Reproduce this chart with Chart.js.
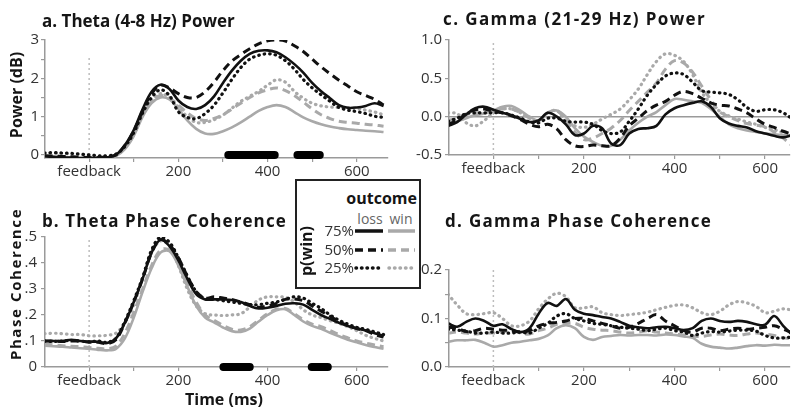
<!DOCTYPE html>
<html>
<head>
<meta charset="utf-8">
<script src="https://cdn.jsdelivr.net/npm/chart.js@4.4.0/dist/chart.umd.min.js"></script>
<style>
  body { margin: 0; background: #fff; }
  #wrap { position: relative; width: 800px; height: 415px; overflow: hidden; font-family: "Open Sans", sans-serif; }
  canvas { position: absolute; }
  .ttl { position: absolute; font-weight: 700; font-size: 17px; color: #151515; white-space: nowrap; line-height: 1; }
  .rot { position: absolute; font-weight: 700; font-size: 15px; color: #151515; white-space: nowrap; line-height: 1;
         transform: translate(-50%, -50%) rotate(-90deg); }
  #legend { position: absolute; left: 295px; top: 179px; }
</style>
</head>
<body>
<div id="wrap">
  <canvas id="cA" width="378" height="154" style="left:15px;top:28px"></canvas>
  <canvas id="cB" width="378" height="167" style="left:15px;top:224px"></canvas>
  <canvas id="cC" width="386" height="151" style="left:409px;top:28px"></canvas>
  <canvas id="cD" width="386" height="133" style="left:409px;top:258px"></canvas>

  <div class="ttl" style="left:42px;top:12px">a. Theta (4-8 Hz) Power</div>
  <div class="ttl" style="left:42px;top:212px;letter-spacing:1.1px">b. Theta Phase Coherence</div>
  <div class="ttl" style="left:443px;top:10px;letter-spacing:1.4px">c. Gamma (21-29 Hz) Power</div>
  <div class="ttl" style="left:445px;top:212px;letter-spacing:1.3px">d. Gamma Phase Coherence</div>
  <div class="rot" style="left:16px;top:95px;font-size:16px">Power (dB)</div>
  <div class="rot" style="left:15px;top:284px;letter-spacing:1.6px">Phase Coherence</div>
  <div class="ttl" style="left:224px;top:391px;font-size:16px;transform:translateX(-50%)">Time (ms)</div>

  <svg id="legend" width="126" height="110" font-family="Open Sans, sans-serif">
    <rect x="1" y="1" width="124" height="108" fill="#fff" stroke="#222" stroke-width="2"/>
    <text x="122" y="25" text-anchor="end" font-weight="700" font-size="16" fill="#151515">outcome</text>
    <text x="75" y="45" text-anchor="middle" font-size="14" fill="#666">loss</text>
    <text x="106" y="45" text-anchor="middle" font-size="14" fill="#666">win</text>
    <text transform="translate(11,72) rotate(-90)" text-anchor="middle" dominant-baseline="central" font-weight="700" font-size="16" fill="#151515">p(win)</text>
    <g font-size="15" fill="#333" text-anchor="end">
      <text x="59" y="57">75%</text>
      <text x="59" y="76">50%</text>
      <text x="59" y="94">25%</text>
    </g>
    <line x1="60" y1="52" x2="88" y2="52" stroke="#111" stroke-width="3.5"/>
    <line x1="93" y1="52" x2="120" y2="52" stroke="#a9a9a9" stroke-width="3.5"/>
    <line x1="60" y1="71" x2="88" y2="71" stroke="#111" stroke-width="3.5" stroke-dasharray="8 5"/>
    <line x1="93" y1="71" x2="120" y2="71" stroke="#a9a9a9" stroke-width="3.5" stroke-dasharray="8 5"/>
    <line x1="61" y1="89" x2="88" y2="89" stroke="#111" stroke-width="3.5" stroke-dasharray="0.5 5" stroke-linecap="round"/>
    <line x1="94" y1="89" x2="120" y2="89" stroke="#a9a9a9" stroke-width="3.5" stroke-dasharray="0.5 5" stroke-linecap="round"/>
  </svg>
</div>

<script>
// time axis (ms after feedback), 20 ms steps
const timeMs = [-100, -80, -60, -40, -20, 0, 20, 40, 60, 80, 100, 120, 140, 160, 180, 200, 220, 240, 260,
  280, 300, 320, 340, 360, 380, 400, 420, 440, 460, 480, 500, 520, 540, 560, 580, 600, 620, 640, 660];

// a. theta power (dB)
const thetaPowerLoss75 = [-0.03,-0.05,-0.06,-0.07,-0.08,-0.08,-0.08,-0.06,0.0, 0.25,0.65,1.2,1.65,1.83,1.72,1.42,1.25,1.2,1.3,
  1.53,1.88,2.2,2.46,2.64,2.72,2.73,2.68,2.55,2.37, 2.15,1.88,1.66,1.48,1.3,1.23,1.24,1.28,1.35,1.28];
const thetaPowerLoss50 = [-0.02,-0.03,-0.04,-0.05,-0.06,-0.07,-0.07,-0.05,0.0, 0.25,0.62,1.15,1.6,1.82,1.75,1.6,1.5,1.5,1.65,
  1.9,2.2,2.45,2.62,2.77,2.9,2.98,3.0,2.97,2.85, 2.7,2.5,2.3,2.12,1.95,1.8,1.65,1.55,1.45,1.3];
const thetaPowerLoss25 = [0.05,0.06,0.05,0.04,0.02,0.0,-0.02,-0.02,0.02, 0.22,0.58,1.1,1.5,1.7,1.55,1.13,0.98,0.95,1.08,
  1.3,1.62,1.97,2.28,2.5,2.6,2.64,2.6,2.46,2.24, 1.97,1.75,1.57,1.4,1.24,1.17,1.13,1.08,1.01,0.98];
const thetaPowerWin75 = [-0.04,-0.05,-0.06,-0.07,-0.08,-0.08,-0.08,-0.07,-0.03, 0.15,0.5,1.0,1.35,1.5,1.45,1.2,0.9,0.68,0.56,
  0.55,0.62,0.72,0.85,1.0,1.15,1.25,1.3,1.25,1.12, 0.98,0.88,0.8,0.74,0.7,0.67,0.65,0.63,0.62,0.6];
const thetaPowerWin50 = [-0.02,-0.03,-0.04,-0.05,-0.06,-0.06,-0.06,-0.05,-0.01, 0.18,0.52,1.05,1.4,1.55,1.48,1.3,1.1,0.95,0.9,
  0.95,1.05,1.2,1.35,1.5,1.62,1.7,1.75,1.68,1.55, 1.38,1.2,1.05,0.95,0.88,0.85,0.83,0.8,0.78,0.75];
const thetaPowerWin25 = [0.06,0.05,0.04,0.02,0.0,-0.02,-0.03,-0.03,0.0, 0.2,0.55,1.05,1.42,1.6,1.5,1.25,1.0,0.85,0.85,
  0.92,1.04,1.22,1.4,1.53,1.66,1.82,1.96,1.9,1.66, 1.48,1.35,1.28,1.25,1.24,1.23,1.21,1.17,1.12,1.05];
const thetaPowerSig = [[312, 416], [467, 517]];

// b. theta phase coherence
const thetaPhaseLoss75 = [0.1,0.1,0.1,0.105,0.1,0.098,0.097,0.092,0.11, 0.17,0.25,0.34,0.44,0.49,0.465,0.41,0.34,0.28,0.26,
  0.26,0.26,0.258,0.25,0.235,0.225,0.228,0.235,0.243,0.245, 0.24,0.22,0.2,0.185,0.17,0.158,0.148,0.14,0.13,0.12];
const thetaPhaseLoss50 = [0.1,0.1,0.098,0.1,0.1,0.095,0.095,0.09,0.105, 0.17,0.25,0.34,0.44,0.49,0.47,0.42,0.35,0.29,0.265,
  0.27,0.265,0.26,0.25,0.24,0.23,0.235,0.245,0.26,0.262, 0.255,0.235,0.215,0.195,0.175,0.16,0.148,0.14,0.125,0.115];
const thetaPhaseLoss25 = [0.1,0.098,0.1,0.102,0.1,0.097,0.1,0.095,0.11, 0.175,0.255,0.345,0.45,0.5,0.48,0.42,0.35,0.29,0.262,
  0.26,0.255,0.25,0.245,0.24,0.24,0.245,0.25,0.26,0.27, 0.265,0.245,0.225,0.2,0.18,0.165,0.152,0.145,0.135,0.125];
const thetaPhaseWin75 = [0.082,0.08,0.078,0.075,0.072,0.07,0.066,0.064,0.07, 0.11,0.19,0.29,0.38,0.44,0.445,0.39,0.31,0.235,0.19,
  0.172,0.152,0.138,0.135,0.148,0.175,0.2,0.218,0.222,0.2, 0.175,0.158,0.147,0.132,0.118,0.105,0.095,0.085,0.077,0.07];
const thetaPhaseWin50 = [0.088,0.085,0.082,0.08,0.078,0.075,0.072,0.07,0.08, 0.13,0.21,0.3,0.39,0.45,0.45,0.4,0.32,0.25,0.2,
  0.18,0.16,0.145,0.142,0.155,0.18,0.205,0.222,0.225,0.205, 0.182,0.165,0.155,0.14,0.125,0.112,0.1,0.092,0.085,0.078];
const thetaPhaseWin25 = [0.128,0.13,0.128,0.125,0.125,0.12,0.12,0.122,0.13, 0.17,0.24,0.34,0.44,0.485,0.465,0.39,0.3,0.235,0.205,
  0.2,0.198,0.2,0.205,0.23,0.258,0.27,0.27,0.268,0.25, 0.22,0.2,0.19,0.178,0.168,0.155,0.14,0.122,0.11,0.1];
const thetaPhaseSig = [[301, 360], [499, 535]];

// c. gamma power (dB)
const gammaPowerLoss75 = [-0.12,-0.07,0.03,0.11,0.13,0.09,0.05,0.02,-0.03, -0.07,-0.05,0.05,0.0,-0.1,-0.24,-0.22,-0.12,-0.15,-0.35,
  -0.37,-0.22,-0.16,-0.15,-0.12,0.03,0.11,0.15,0.18,0.2, 0.13,-0.02,-0.09,-0.12,-0.14,-0.19,-0.22,-0.25,-0.27,-0.24];
const gammaPowerLoss50 = [-0.1,-0.05,0.04,0.09,0.1,0.07,0.05,0.01,-0.04, -0.1,-0.13,-0.1,-0.16,-0.3,-0.38,-0.39,-0.37,-0.38,-0.38,
  -0.28,-0.12,-0.02,0.08,0.15,0.2,0.28,0.33,0.3,0.24, 0.18,0.15,0.14,0.1,0.05,-0.03,-0.1,-0.14,-0.19,-0.23];
const gammaPowerLoss25 = [-0.06,-0.02,0.04,0.05,0.05,0.05,0.05,0.02,-0.02, -0.07,-0.08,-0.02,-0.02,-0.06,-0.07,-0.07,-0.1,-0.18,-0.22,
  -0.2,-0.06,0.1,0.28,0.42,0.53,0.57,0.55,0.45,0.34, 0.32,0.31,0.29,0.22,0.12,0.07,0.09,0.09,0.05,-0.03];
const gammaPowerWin75 = [-0.08,-0.06,-0.02,0.02,0.04,0.08,0.13,0.14,0.08, 0.0,-0.05,0.05,0.08,0.0,-0.15,-0.26,-0.33,-0.38,-0.38,
  -0.3,-0.18,-0.08,0.0,0.06,0.15,0.23,0.22,0.2,0.18, 0.1,0.0,-0.1,-0.15,-0.18,-0.2,-0.22,-0.23,-0.24,-0.25];
const gammaPowerWin50 = [-0.05,-0.02,0.02,0.05,0.05,0.07,0.1,0.1,0.05, -0.02,-0.05,0.05,0.08,-0.05,-0.2,-0.3,-0.28,-0.22,-0.15,
  -0.05,0.08,0.2,0.32,0.44,0.62,0.73,0.7,0.58,0.4, 0.22,0.06,0.0,-0.05,-0.09,-0.11,-0.13,-0.2,-0.28,-0.38];
const gammaPowerWin25 = [0.05,0.04,-0.08,-0.12,-0.05,0.05,0.1,0.1,0.05, -0.02,-0.05,0.05,0.08,-0.05,-0.12,-0.14,-0.1,-0.03,0.03,
  0.1,0.22,0.36,0.55,0.72,0.82,0.8,0.72,0.55,0.32, 0.17,0.07,0.01,-0.03,-0.07,-0.1,-0.14,-0.17,-0.21,-0.26];

// d. gamma phase coherence
const gammaPhaseLoss75 = [0.09,0.083,0.093,0.1,0.095,0.085,0.088,0.078,0.072, 0.08,0.11,0.132,0.126,0.14,0.118,0.11,0.107,0.103,0.1,
  0.093,0.085,0.082,0.08,0.082,0.083,0.08,0.076,0.08,0.095, 0.1,0.095,0.093,0.095,0.093,0.088,0.087,0.105,0.085,0.066];
const gammaPhaseLoss50 = [0.082,0.08,0.073,0.075,0.08,0.078,0.076,0.075,0.072, 0.075,0.085,0.09,0.092,0.095,0.1,0.1,0.095,0.09,0.085,
  0.08,0.082,0.09,0.1,0.108,0.095,0.085,0.075,0.072,0.08, 0.08,0.075,0.078,0.08,0.078,0.08,0.082,0.085,0.078,0.07];
const gammaPhaseLoss25 = [0.078,0.076,0.074,0.07,0.07,0.072,0.07,0.07,0.072, 0.07,0.08,0.09,0.105,0.11,0.1,0.095,0.09,0.088,0.085,
  0.082,0.08,0.078,0.075,0.078,0.08,0.075,0.072,0.065,0.07, 0.073,0.072,0.074,0.076,0.076,0.074,0.065,0.06,0.06,0.062];
const gammaPhaseWin75 = [0.052,0.055,0.055,0.056,0.05,0.042,0.045,0.05,0.052, 0.055,0.058,0.065,0.08,0.086,0.08,0.062,0.056,0.062,0.064,
  0.066,0.065,0.066,0.066,0.065,0.067,0.066,0.063,0.06,0.048, 0.042,0.04,0.038,0.04,0.043,0.045,0.044,0.046,0.045,0.045];
const gammaPhaseWin50 = [0.07,0.072,0.07,0.068,0.07,0.07,0.072,0.075,0.07, 0.068,0.075,0.08,0.088,0.09,0.09,0.082,0.078,0.076,0.075,
  0.072,0.07,0.072,0.075,0.072,0.07,0.068,0.066,0.064,0.063, 0.066,0.068,0.066,0.065,0.068,0.07,0.068,0.065,0.06,0.058];
const gammaPhaseWin25 = [0.15,0.128,0.11,0.108,0.11,0.112,0.1,0.085,0.085, 0.095,0.12,0.14,0.152,0.145,0.122,0.122,0.124,0.112,0.108,
  0.106,0.108,0.11,0.113,0.118,0.123,0.127,0.128,0.122,0.112, 0.108,0.115,0.128,0.135,0.132,0.125,0.112,0.115,0.12,0.117];

// axis ticks
const leftTimeRange = [-99, 670];
const rightTimeRange = [-98, 655];
const xTickValues = [0, 100, 200, 300, 400, 500, 600];
const xTickLabels = ['feedback', '', '200', '', '400', '', '600'];
const thetaPowerTicks = [0, 0.5, 1, 1.5, 2, 2.5, 3];
const thetaPowerTickLabels = ['0', '', '1', '', '2', '', '3'];
const thetaPhaseTicks = [0, 0.1, 0.2, 0.3, 0.4, 0.5];
const thetaPhaseTickLabels = ['0', '.1', '.2', '.3', '.4', '.5'];
const gammaPowerTicks = [-0.5, 0, 0.5, 1.0];
const gammaPowerTickLabels = ['-0.5', '0.0', '0.5', '1.0'];
const gammaPhaseTicks = [0, 0.05, 0.1, 0.15, 0.2];
const gammaPhaseTickLabels = ['0.0', '', '0.1', '', '0.2'];

const LOSS = '#111111';
const WIN = '#a9a9a9';
const AXIS = '#9a9a9a';
const TICK_FONT = { family: 'Open Sans', size: 15 };

const styles = {
  solid: { borderDash: [], borderWidth: 2.6, borderCapStyle: 'butt' },
  dashed: { borderDash: [8, 5], borderWidth: 3, borderCapStyle: 'butt' },
  dotted: { borderDash: [0.5, 5], borderWidth: 3.2, borderCapStyle: 'round' }
};

function curve(values, color, style) {
  return Object.assign({
    data: timeMs.map((t, i) => ({ x: t, y: values[i] })),
    borderColor: color, pointRadius: 0, tension: 0.35, fill: false
  }, styles[style]);
}

function sigBars(windows) {
  return windows.map(w => ({
    data: [{ x: w[0], y: 0 }, { x: w[1], y: 0 }],
    borderColor: '#000', borderWidth: 8, borderCapStyle: 'round', pointRadius: 0, clip: false
  }));
}

function feedbackLine(y0, y1) {
  return { data: [{ x: 0, y: y0 }, { x: 0, y: y1 }], borderColor: '#bdbdbd', borderWidth: 1.5,
    borderDash: [2, 3], pointRadius: 0 };
}

function zeroLine(range) {
  return { data: [{ x: range[0], y: 0 }, { x: range[1], y: 0 }], borderColor: '#9a9a9a', borderWidth: 1.5, pointRadius: 0 };
}

function makeChart(id, datasets, xRange, y) {
  return new Chart(document.getElementById(id), {
    type: 'line',
    data: { datasets: datasets },
    options: {
      responsive: false,
      animation: false,
      devicePixelRatio: 1,
      layout: { padding: { top: 12, right: 5, left: 0, bottom: 0 } },
      plugins: { legend: { display: false }, tooltip: { enabled: false } },
      scales: {
        x: {
          type: 'linear', min: xRange[0], max: xRange[1],
          afterBuildTicks: s => { s.ticks = xTickValues.map(v => ({ value: v })); },
          afterFit: s => { s.height = 24; },
          ticks: { callback: (v, i) => xTickLabels[i], font: TICK_FONT, color: '#333', padding: 1, maxRotation: 0, autoSkip: false },
          grid: { drawOnChartArea: false, tickLength: 4, color: AXIS, lineWidth: 1.2 },
          border: { color: AXIS, width: 1.5 }
        },
        y: {
          type: 'linear', min: y.min, max: y.max,
          afterBuildTicks: s => { s.ticks = y.ticks.map(v => ({ value: v })); },
          afterFit: s => { s.width = y.width; },
          ticks: { callback: (v, i) => y.labels[i], font: TICK_FONT, color: '#333', padding: y.pad, autoSkip: false },
          grid: { drawOnChartArea: false, tickLength: 4, color: AXIS, lineWidth: 1.2 },
          border: { color: AXIS, width: 1.5 }
        }
      }
    }
  });
}

function panelSeries(l75, l50, l25, w75, w50, w25) {
  return [
    curve(l75, LOSS, 'solid'), curve(l50, LOSS, 'dashed'), curve(l25, LOSS, 'dotted'),
    curve(w75, WIN, 'solid'), curve(w50, WIN, 'dashed'), curve(w25, WIN, 'dotted')
  ];
}

makeChart('cA',
  sigBars(thetaPowerSig).concat(
    panelSeries(thetaPowerLoss75, thetaPowerLoss50, thetaPowerLoss25, thetaPowerWin75, thetaPowerWin50, thetaPowerWin25),
    [feedbackLine(0, 2.55)]),
  leftTimeRange,
  { min: -0.08, max: 3, ticks: thetaPowerTicks, labels: thetaPowerTickLabels, width: 30, pad: 2 });

makeChart('cB',
  sigBars(thetaPhaseSig).concat(
    panelSeries(thetaPhaseLoss75, thetaPhaseLoss50, thetaPhaseLoss25, thetaPhaseWin75, thetaPhaseWin50, thetaPhaseWin25),
    [feedbackLine(0, 0.52)]),
  leftTimeRange,
  { min: 0, max: 0.5, ticks: thetaPhaseTicks, labels: thetaPhaseTickLabels, width: 30, pad: 4 });

makeChart('cC',
  panelSeries(gammaPowerLoss75, gammaPowerLoss50, gammaPowerLoss25, gammaPowerWin75, gammaPowerWin50, gammaPowerWin25)
    .concat([zeroLine(rightTimeRange), feedbackLine(-0.5, 1.0)]),
  rightTimeRange,
  { min: -0.5, max: 1.0, ticks: gammaPowerTicks, labels: gammaPowerTickLabels, width: 40, pad: 3 });

makeChart('cD',
  panelSeries(gammaPhaseLoss75, gammaPhaseLoss50, gammaPhaseLoss25, gammaPhaseWin75, gammaPhaseWin50, gammaPhaseWin25)
    .concat([feedbackLine(0, 0.2)]),
  rightTimeRange,
  { min: 0, max: 0.2, ticks: gammaPhaseTicks, labels: gammaPhaseTickLabels, width: 40, pad: 3 });
</script>
</body>
</html>
